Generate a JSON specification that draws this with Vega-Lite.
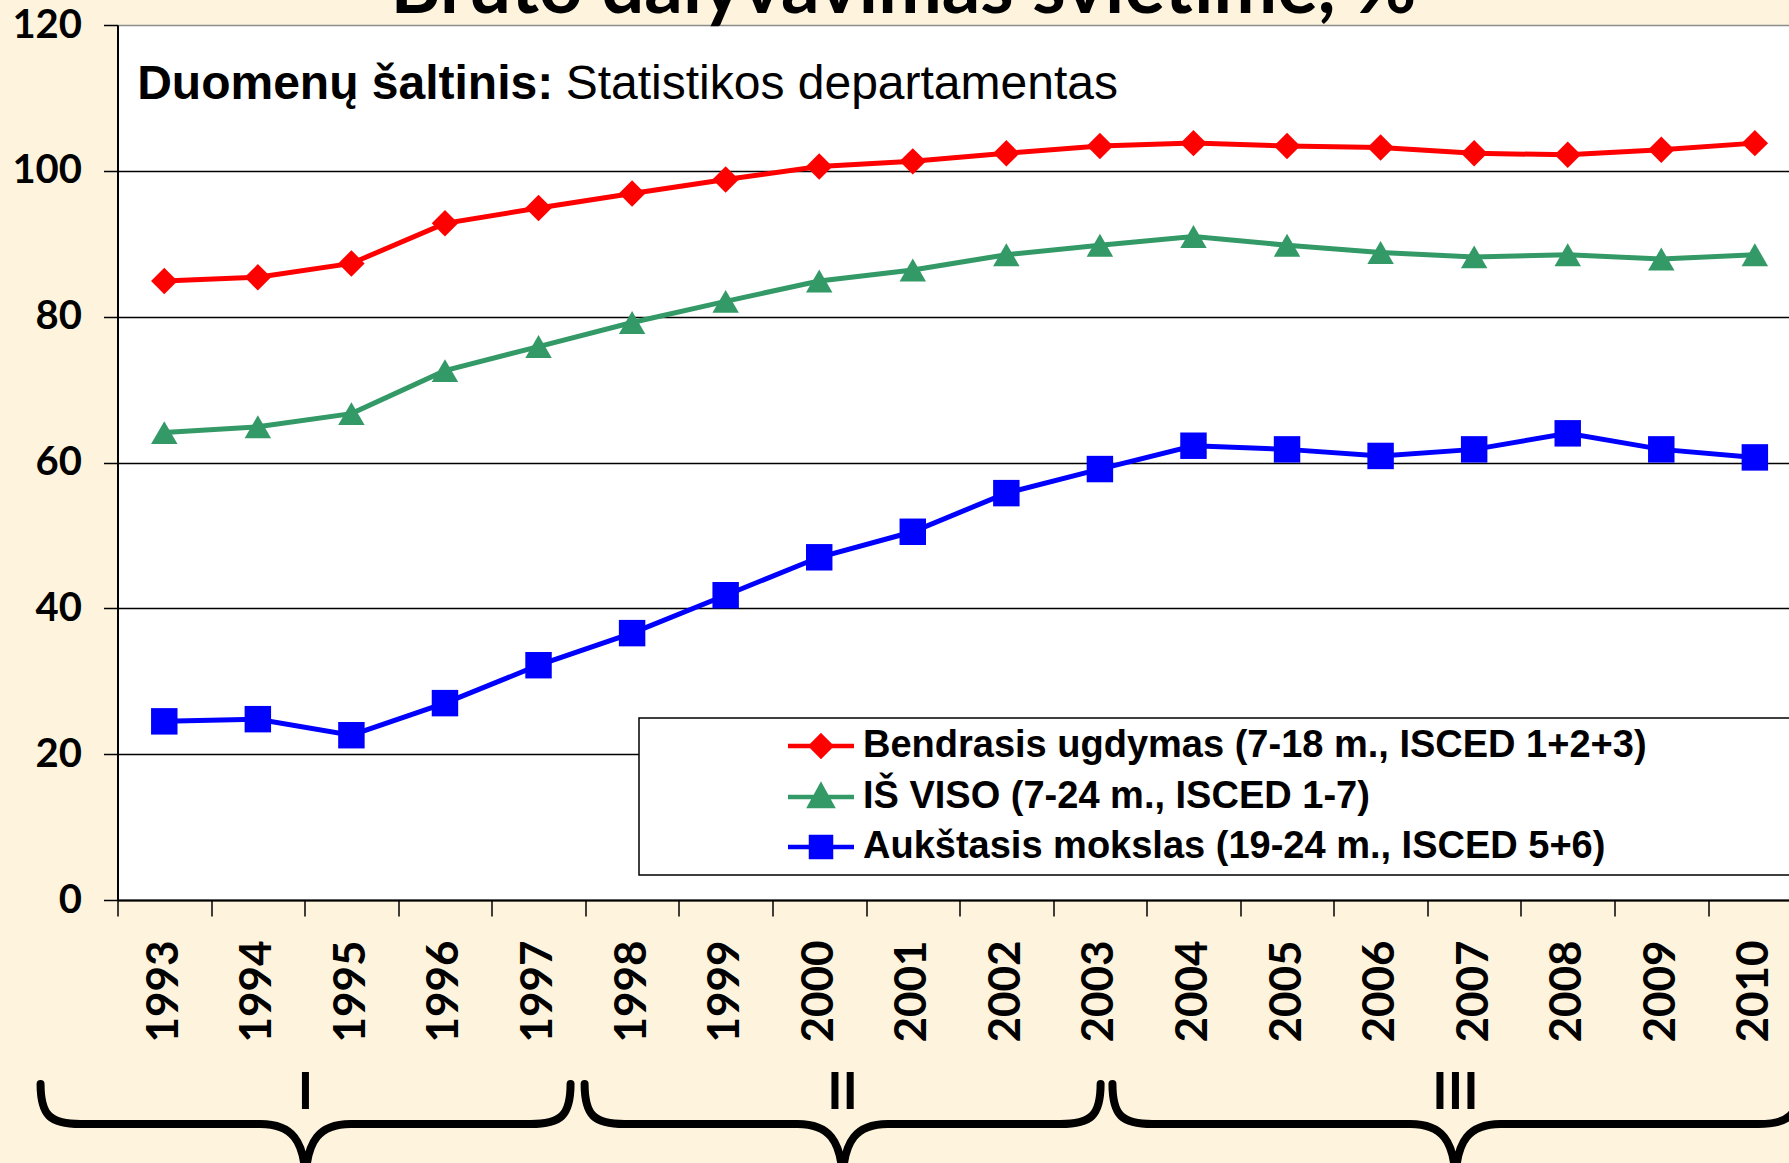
{
  "$schema": "https://vega.github.io/schema/vega-lite/v6.json",
  "width": 1671.5,
  "height": 875,
  "autosize": {"type": "none"},
  "padding": {"left": 117.5, "top": 25, "right": 0, "bottom": 263},
  "background": "#FEF4DD",
  "config": {
    "view": {"fill": "white", "stroke": null},
    "legend": {"strokeWidth": 1.5, "cornerRadius": 0}
  },
  "datasets": {
    "series": [
      {"year": 1993, "series": "Bendrasis ugdymas (7-18 m., ISCED 1+2+3)", "value": 84.9},
      {"year": 1994, "series": "Bendrasis ugdymas (7-18 m., ISCED 1+2+3)", "value": 85.4},
      {"year": 1995, "series": "Bendrasis ugdymas (7-18 m., ISCED 1+2+3)", "value": 87.3},
      {"year": 1996, "series": "Bendrasis ugdymas (7-18 m., ISCED 1+2+3)", "value": 92.8},
      {"year": 1997, "series": "Bendrasis ugdymas (7-18 m., ISCED 1+2+3)", "value": 94.9},
      {"year": 1998, "series": "Bendrasis ugdymas (7-18 m., ISCED 1+2+3)", "value": 96.9},
      {"year": 1999, "series": "Bendrasis ugdymas (7-18 m., ISCED 1+2+3)", "value": 98.8},
      {"year": 2000, "series": "Bendrasis ugdymas (7-18 m., ISCED 1+2+3)", "value": 100.6},
      {"year": 2001, "series": "Bendrasis ugdymas (7-18 m., ISCED 1+2+3)", "value": 101.3},
      {"year": 2002, "series": "Bendrasis ugdymas (7-18 m., ISCED 1+2+3)", "value": 102.4},
      {"year": 2003, "series": "Bendrasis ugdymas (7-18 m., ISCED 1+2+3)", "value": 103.4},
      {"year": 2004, "series": "Bendrasis ugdymas (7-18 m., ISCED 1+2+3)", "value": 103.8},
      {"year": 2005, "series": "Bendrasis ugdymas (7-18 m., ISCED 1+2+3)", "value": 103.4},
      {"year": 2006, "series": "Bendrasis ugdymas (7-18 m., ISCED 1+2+3)", "value": 103.2},
      {"year": 2007, "series": "Bendrasis ugdymas (7-18 m., ISCED 1+2+3)", "value": 102.4},
      {"year": 2008, "series": "Bendrasis ugdymas (7-18 m., ISCED 1+2+3)", "value": 102.2},
      {"year": 2009, "series": "Bendrasis ugdymas (7-18 m., ISCED 1+2+3)", "value": 102.9},
      {"year": 2010, "series": "Bendrasis ugdymas (7-18 m., ISCED 1+2+3)", "value": 103.8},
      {"year": 1993, "series": "IŠ VISO (7-24 m., ISCED 1-7)", "value": 64.1},
      {"year": 1994, "series": "IŠ VISO (7-24 m., ISCED 1-7)", "value": 64.9},
      {"year": 1995, "series": "IŠ VISO (7-24 m., ISCED 1-7)", "value": 66.7},
      {"year": 1996, "series": "IŠ VISO (7-24 m., ISCED 1-7)", "value": 72.6},
      {"year": 1997, "series": "IŠ VISO (7-24 m., ISCED 1-7)", "value": 75.9},
      {"year": 1998, "series": "IŠ VISO (7-24 m., ISCED 1-7)", "value": 79.2},
      {"year": 1999, "series": "IŠ VISO (7-24 m., ISCED 1-7)", "value": 82.1},
      {"year": 2000, "series": "IŠ VISO (7-24 m., ISCED 1-7)", "value": 84.9},
      {"year": 2001, "series": "IŠ VISO (7-24 m., ISCED 1-7)", "value": 86.4},
      {"year": 2002, "series": "IŠ VISO (7-24 m., ISCED 1-7)", "value": 88.5},
      {"year": 2003, "series": "IŠ VISO (7-24 m., ISCED 1-7)", "value": 89.8},
      {"year": 2004, "series": "IŠ VISO (7-24 m., ISCED 1-7)", "value": 91.0},
      {"year": 2005, "series": "IŠ VISO (7-24 m., ISCED 1-7)", "value": 89.8},
      {"year": 2006, "series": "IŠ VISO (7-24 m., ISCED 1-7)", "value": 88.8},
      {"year": 2007, "series": "IŠ VISO (7-24 m., ISCED 1-7)", "value": 88.2},
      {"year": 2008, "series": "IŠ VISO (7-24 m., ISCED 1-7)", "value": 88.5},
      {"year": 2009, "series": "IŠ VISO (7-24 m., ISCED 1-7)", "value": 87.9},
      {"year": 2010, "series": "IŠ VISO (7-24 m., ISCED 1-7)", "value": 88.5},
      {"year": 1993, "series": "Aukštasis mokslas (19-24 m., ISCED 5+6)", "value": 24.5},
      {"year": 1994, "series": "Aukštasis mokslas (19-24 m., ISCED 5+6)", "value": 24.8},
      {"year": 1995, "series": "Aukštasis mokslas (19-24 m., ISCED 5+6)", "value": 22.6},
      {"year": 1996, "series": "Aukštasis mokslas (19-24 m., ISCED 5+6)", "value": 27.0},
      {"year": 1997, "series": "Aukštasis mokslas (19-24 m., ISCED 5+6)", "value": 32.2},
      {"year": 1998, "series": "Aukštasis mokslas (19-24 m., ISCED 5+6)", "value": 36.6},
      {"year": 1999, "series": "Aukštasis mokslas (19-24 m., ISCED 5+6)", "value": 41.8},
      {"year": 2000, "series": "Aukštasis mokslas (19-24 m., ISCED 5+6)", "value": 47.0},
      {"year": 2001, "series": "Aukštasis mokslas (19-24 m., ISCED 5+6)", "value": 50.5},
      {"year": 2002, "series": "Aukštasis mokslas (19-24 m., ISCED 5+6)", "value": 55.8},
      {"year": 2003, "series": "Aukštasis mokslas (19-24 m., ISCED 5+6)", "value": 59.1},
      {"year": 2004, "series": "Aukštasis mokslas (19-24 m., ISCED 5+6)", "value": 62.3},
      {"year": 2005, "series": "Aukštasis mokslas (19-24 m., ISCED 5+6)", "value": 61.8},
      {"year": 2006, "series": "Aukštasis mokslas (19-24 m., ISCED 5+6)", "value": 60.9},
      {"year": 2007, "series": "Aukštasis mokslas (19-24 m., ISCED 5+6)", "value": 61.8},
      {"year": 2008, "series": "Aukštasis mokslas (19-24 m., ISCED 5+6)", "value": 64.0},
      {"year": 2009, "series": "Aukštasis mokslas (19-24 m., ISCED 5+6)", "value": 61.8},
      {"year": 2010, "series": "Aukštasis mokslas (19-24 m., ISCED 5+6)", "value": 60.7}
    ],
    "periods": [
      {"period": "I", "center": 1994.51},
      {"period": "II", "center": 2000.25},
      {"period": "III", "center": 2006.8}
    ]
  },
  "resolve": {"scale": {"shape": "independent"}},
  "layer": [
    {
      "data": {"name": "series"},
      "mark": {"type": "line", "strokeWidth": 5},
      "encoding": {
        "x": {
          "field": "year", "type": "quantitative", "title": null,
          "scale": {"domain": [1992.5, 2010.365], "nice": false, "zero": false},
          "axis": {
            "title": null,
            "grid": false,
            "values": [1992.5, 1993, 1993.5, 1994, 1994.5, 1995, 1995.5, 1996, 1996.5, 1997, 1997.5, 1998, 1998.5, 1999, 1999.5, 2000, 2000.5, 2001, 2001.5, 2002, 2002.5, 2003, 2003.5, 2004, 2004.5, 2005, 2005.5, 2006, 2006.5, 2007, 2007.5, 2008, 2008.5, 2009, 2009.5, 2010],
            "labelExpr": "datum.value % 1 === 0 ? format(datum.value, 'd') : ''",
            "labelAngle": 270,
            "labelAlign": "right",
            "labelBaseline": "middle",
            "labelFont": "Lato",
            "labelFontSize": 44,
            "labelFontWeight": "bold",
            "labelColor": "black",
            "labelPadding": 24,
            "labelOverlap": false,
            "labelFlush": false,
            "tickSize": 16,
            "tickWidth": 1.5,
            "tickColor": "black",
            "tickOpacity": {"condition": {"test": "datum.value % 1 === 0", "value": 0}, "value": 1},
            "domainColor": "black",
            "domainWidth": 2,
            "zindex": 2
          }
        },
        "y": {
          "field": "value", "type": "quantitative", "title": null,
          "scale": {"domain": [0, 120], "nice": false, "zero": false},
          "axis": {
            "title": null,
            "values": [0, 20, 40, 60, 80, 100, 120],
            "grid": true,
            "gridColor": {"condition": {"test": "datum.value === 120", "value": "#8c8c8c"}, "value": "black"},
            "gridWidth": 1.5,
            "labelFont": "Lato",
            "labelFontSize": 40,
            "labelFontWeight": "bold",
            "labelColor": "black",
            "labelPadding": 22,
            "labelFlush": false,
            "tickSize": 14,
            "tickWidth": 1.5,
            "tickColor": "black",
            "domainColor": "black",
            "domainWidth": 2,
            "zindex": 0
          }
        },
        "color": {
          "field": "series", "type": "nominal",
          "scale": {
            "domain": ["Bendrasis ugdymas (7-18 m., ISCED 1+2+3)", "IŠ VISO (7-24 m., ISCED 1-7)", "Aukštasis mokslas (19-24 m., ISCED 5+6)"],
            "range": ["#FF0000", "#339966", "#0000FF"]
          },
          "legend": {
            "title": null,
            "orient": "none",
            "legendX": 521.5,
            "legendY": 693,
            "direction": "vertical",
            "padding": 9,
            "strokeColor": "black",
            "fillColor": "white",
            "labelFont": "Liberation Sans",
            "labelFontSize": 38,
            "labelFontWeight": "bold",
            "labelColor": "black",
            "labelLimit": 3000,
            "labelOffset": 23,
            "symbolOffset": 154,
            "symbolSize": 4,
            "symbolStrokeWidth": 4.5,
            "rowPadding": 12,
            "labelExpr": "indexof(datum.label, 'Bendrasis') === 0 ? datum.label + '\u2800\u2800\u2800\u2800\u2800\u2800' : datum.label",
            "encode": {
              "symbols": {
                "update": {
                  "shape": {"signal": "indexof(datum.value, 'Bendrasis') === 0 ? 'M-33,0H33M0,-10L10,0L0,10L-10,0Z' : indexof(datum.value, 'IŠ') === 0 ? 'M-33,0H33M0,-11L11,9L-11,9Z' : 'M-33,0H33M-10,-10H10V10H-10Z'"},
                  "fill": {"scale": "color", "field": "value"},
                  "stroke": {"scale": "color", "field": "value"},
                  "strokeWidth": {"value": 4.5},
                  "size": {"value": 4},
                  "opacity": {"value": 1}
                }
              }
            }
          }
        }
      }
    },
    {
      "data": {"name": "series"},
      "mark": {"type": "point", "filled": true, "size": 700, "opacity": 1},
      "encoding": {
        "x": {"field": "year", "type": "quantitative", "title": null, "scale": {"domain": [1992.5, 2010.365], "nice": false, "zero": false}},
        "y": {"field": "value", "type": "quantitative", "title": null, "scale": {"domain": [0, 120], "nice": false, "zero": false}},
        "color": {"field": "series", "type": "nominal", "legend": null},
        "shape": {
          "field": "series", "type": "nominal",
          "scale": {
            "domain": ["Bendrasis ugdymas (7-18 m., ISCED 1+2+3)", "IŠ VISO (7-24 m., ISCED 1-7)", "Aukštasis mokslas (19-24 m., ISCED 5+6)"],
            "range": ["diamond", "triangle-up", "square"]
          },
          "legend": null
        }
      }
    },
    {
      "data": {"values": [{"role": "title", "text": "Bruto dalyvavimas švietime, %"}]},
      "mark": {"type": "text", "font": "Lato", "fontSize": 76, "fontWeight": "bold", "align": "center", "baseline": "alphabetic", "color": "black"},
      "encoding": {
        "x": {"datum": 2000.9, "type": "quantitative", "title": null, "scale": {"domain": [1992.5, 2010.365], "nice": false, "zero": false}},
        "y": {"datum": 121.65, "type": "quantitative", "title": null, "scale": {"domain": [0, 120], "nice": false, "zero": false}},
        "text": {"field": "text"}
      }
    },
    {
      "data": {"values": [{"part": "bold", "text": "Duomenų šaltinis:"}]},
      "mark": {"type": "text", "font": "Liberation Sans", "fontSize": 48, "fontWeight": "bold", "align": "left", "baseline": "alphabetic", "color": "black"},
      "encoding": {
        "x": {"datum": 1992.71, "type": "quantitative", "title": null, "scale": {"domain": [1992.5, 2010.365], "nice": false, "zero": false}},
        "y": {"datum": 109.85, "type": "quantitative", "title": null, "scale": {"domain": [0, 120], "nice": false, "zero": false}},
        "text": {"field": "text"}
      }
    },
    {
      "data": {"values": [{"part": "regular", "text": "Statistikos departamentas"}]},
      "mark": {"type": "text", "font": "Liberation Sans", "fontSize": 48, "fontWeight": "normal", "align": "left", "baseline": "alphabetic", "color": "black"},
      "encoding": {
        "x": {"datum": 1997.29, "type": "quantitative", "title": null, "scale": {"domain": [1992.5, 2010.365], "nice": false, "zero": false}},
        "y": {"datum": 109.85, "type": "quantitative", "title": null, "scale": {"domain": [0, 120], "nice": false, "zero": false}},
        "text": {"field": "text"}
      }
    },
    {
      "data": {"name": "periods"},
      "mark": {"type": "text", "font": "Lato", "fontSize": 52, "fontWeight": "bold", "align": "center", "baseline": "alphabetic", "color": "black"},
      "encoding": {
        "x": {"field": "center", "type": "quantitative", "title": null, "scale": {"domain": [1992.5, 2010.365], "nice": false, "zero": false}},
        "y": {"datum": -28.66, "type": "quantitative", "title": null, "scale": {"domain": [0, 120], "nice": false, "zero": false}},
        "text": {"field": "period"}
      }
    },
    {
      "data": {"name": "periods"},
      "mark": {"type": "point", "filled": false, "size": 4, "opacity": 1, "stroke": "black", "strokeWidth": 8, "strokeJoin": "round", "strokeCap": "round"},
      "encoding": {
        "x": {"field": "center", "type": "quantitative", "title": null, "scale": {"domain": [1992.5, 2010.365], "nice": false, "zero": false}},
        "y": {"datum": -30.72, "type": "quantitative", "title": null, "scale": {"domain": [0, 120], "nice": false, "zero": false}},
        "shape": {
          "field": "period", "type": "nominal",
          "scale": {
            "domain": ["I", "II", "III"],
            "range": [
              "M-265,-40C-265,-8 -255,0 -225,0L-45,0C-15,0 0,15 0,60C0,15 15,0 45,0L225,0C255,0 265,-8 265,-40",
              "M-258,-40C-258,-8 -248,0 -218,0L-45,0C-15,0 0,15 0,60C0,15 15,0 45,0L218,0C248,0 258,-8 258,-40",
              "M-343,-40C-343,-8 -333,0 -303,0L-45,0C-15,0 0,15 0,60C0,15 15,0 45,0L303,0C333,0 343,-8 343,-40"
            ]
          },
          "legend": null
        }
      }
    }
  ]
}
